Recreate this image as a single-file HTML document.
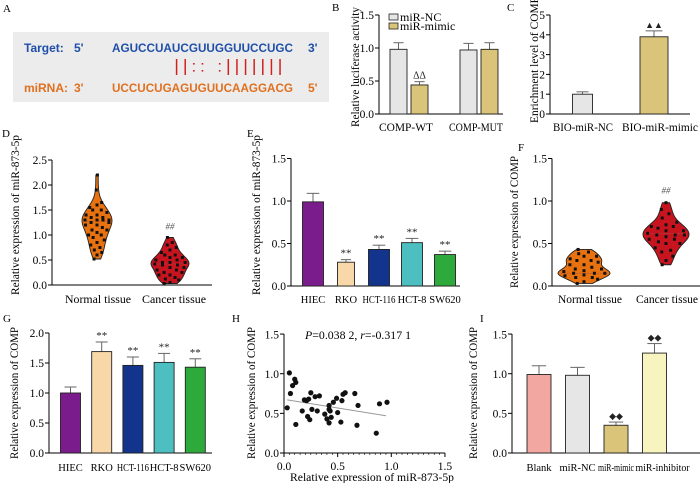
<!DOCTYPE html>
<html><head><meta charset="utf-8">
<style>
html,body{margin:0;padding:0;background:#fff;}
svg{display:block;font-family:"Liberation Serif",serif;}
.sans{font-family:"Liberation Sans",sans-serif;font-weight:bold;}
</style></head>
<body>
<svg id="fig" width="700" height="483" viewBox="0 0 700 483" xmlns="http://www.w3.org/2000/svg">
  <g>
    <text x="3" y="12" font-size="11">A</text>
    <rect x="13" y="32" width="316" height="70" fill="#ececec"/>
    <g class="sans" font-size="12" fill="#1f4fa8">
      <text x="24" y="52">Target:</text>
      <text x="74" y="52">5'</text>
      <text x="112" y="52" textLength="181" lengthAdjust="spacingAndGlyphs">AGUCCUAUCGUUGGUUCCUGC</text>
      <text x="308" y="52">3'</text>
    </g>
    <g class="sans" font-size="12" fill="#e07020">
      <text x="24" y="92">miRNA:</text>
      <text x="74" y="92">3'</text>
      <text x="112" y="92" textLength="181" lengthAdjust="spacingAndGlyphs">UCCUCUGAGUGUUCAAGGACG</text>
      <text x="308" y="92">5'</text>
    </g>
    <g id="pairs" stroke="#d42020" stroke-width="1.5" fill="#d42020"></g>
  </g>
  <g id="charts"></g>
</svg>
<script>
// ---------- DATA ----------
const bCategories = ["COMP-WT", "COMP-MUT"];
const bSeriesNC = [0.98, 0.97];
const bSeriesNCErr = [0.1, 0.1];
const bSeriesMimic = [0.44, 0.98];
const bSeriesMimicErr = [0.05, 0.1];
const bTicks = [0.0, 0.5, 1.0, 1.5];

const cCategories = ["BIO-miR-NC", "BIO-miR-mimic"];
const cValues = [1.0, 3.9];
const cErrors = [0.12, 0.3];
const cTicks = [0, 1, 2, 3, 4, 5];

const dNormal = [0.52,0.6,0.65,0.7,0.75,0.8,0.85,0.9,0.95,1.0,1.0,1.05,1.1,1.1,1.15,1.2,1.2,1.25,1.25,1.3,1.3,1.3,1.3,1.35,1.35,1.4,1.4,1.45,1.5,1.5,1.55,1.6,1.65,1.9,2.2];
const dCancer = [0.03,0.05,0.1,0.12,0.15,0.2,0.2,0.25,0.25,0.3,0.3,0.35,0.35,0.4,0.4,0.42,0.45,0.45,0.45,0.5,0.5,0.55,0.55,0.6,0.6,0.65,0.7,0.75,0.8,0.85,0.95];
const dTicks = [0.0, 0.5, 1.0, 1.5, 2.0, 2.5];

const eCategories = ["HIEC", "RKO", "HCT-116", "HCT-8", "SW620"];
const eValues = [0.99, 0.28, 0.43, 0.51, 0.37];
const eErrors = [0.1, 0.03, 0.05, 0.05, 0.04];
const eTicks = [0.0, 0.5, 1.0, 1.5];

const fNormal = [0.03,0.05,0.08,0.1,0.1,0.12,0.13,0.15,0.15,0.15,0.17,0.18,0.2,0.2,0.22,0.25,0.25,0.28,0.3,0.3,0.32,0.35,0.35,0.38,0.4,0.43];
const fCancer = [0.25,0.3,0.35,0.4,0.42,0.45,0.5,0.5,0.52,0.55,0.55,0.58,0.6,0.6,0.6,0.62,0.65,0.65,0.68,0.7,0.7,0.72,0.75,0.8,0.85,0.9,0.98];
const fTicks = [0.0, 0.5, 1.0, 1.5];

const gCategories = ["HIEC", "RKO", "HCT-116", "HCT-8", "SW620"];
const gValues = [1.0, 1.69, 1.46, 1.51, 1.43];
const gErrors = [0.1, 0.16, 0.14, 0.15, 0.14];
const gTicks = [0.0, 0.5, 1.0, 1.5, 2.0];

const hX = [0.03,0.05,0.06,0.08,0.10,0.11,0.11,0.17,0.19,0.21,0.22,0.23,0.24,0.25,0.26,0.29,0.31,0.33,0.38,0.40,0.42,0.42,0.42,0.43,0.44,0.46,0.49,0.50,0.53,0.54,0.55,0.57,0.66,0.69,0.68,0.86,0.89,0.96];
const hY = [0.57,1.01,0.75,0.85,0.93,0.89,0.36,0.53,0.67,0.66,0.46,0.68,0.42,0.76,0.55,0.71,0.53,0.72,0.49,0.43,0.60,0.55,0.38,0.53,0.45,0.64,0.69,0.51,0.39,0.66,0.74,0.76,0.75,0.60,0.35,0.25,0.62,0.64];
const hFitX = [0.03, 0.95];
const hFitY = [0.67, 0.47];
const hTicks = [0.0, 0.5, 1.0, 1.5];

const iCategories = ["Blank", "miR-NC", "miR-mimic", "miR-inhibitor"];
const iValues = [0.99, 0.98, 0.35, 1.26];
const iErrors = [0.11, 0.1, 0.04, 0.12];
const iTicks = [0.0, 0.5, 1.0, 1.5];

// ---------- HELPERS ----------
const NS = "http://www.w3.org/2000/svg";
const root = document.getElementById("charts");
function mk(tag, attrs, parent, txt) {
  const el = document.createElementNS(NS, tag);
  for (const k in attrs) el.setAttribute(k, attrs[k]);
  if (txt !== undefined) el.textContent = txt;
  (parent || root).appendChild(el);
  return el;
}
function fit(el, maxW) {
  if (!maxW) return;
  try {
    const w = el.getComputedTextLength();
    if (w > maxW) { el.setAttribute("textLength", maxW); el.setAttribute("lengthAdjust", "spacingAndGlyphs"); }
  } catch (e) {}
}
function group(name, parent) {
  const g = mk("g", {}, parent);
  
  
  return g;
}
function fmt(v, dec) { return v.toFixed(dec); }
function yAxis(g, ax, y0, sc, ticks, dec, xEnd) {
  const ln = mk("line", {x1: ax, y1: y0, x2: ax, y2: sc(ticks[ticks.length-1]), stroke: "#000", "stroke-width": 1}, g);
  
  
  const bl = mk("line", {x1: ax, y1: y0, x2: xEnd, y2: y0, stroke: "#000", "stroke-width": 1}, g);
  
  
  ticks.forEach(t => {
    mk("line", {x1: ax-4, y1: sc(t), x2: ax, y2: sc(t), stroke: "#000"}, g);
    const tx = mk("text", {x: ax-5, y: sc(t)+4.2, "font-size": 11.5, "text-anchor": "end"}, g, fmt(t, dec));
    
    
  });
}
function yTitle(g, x, cy, txt, maxW) {
  const t = mk("text", {x: 0, y: 0, "font-size": 11.5, "text-anchor": "middle", transform: `translate(${x},${cy}) rotate(-90)`}, g, txt);
  
  
  fit(t, maxW);
}
function panelLabel(txt, x, y) {
  const t = mk("text", {x: x, y: y, "font-size": 11}, root, txt);
  
  
}
function bar(g, cx, w, v, err, sc, y0, fill, mark, markSize) {
  const top = sc(v);
  const et = sc(v + err);
  mk("line", {x1: cx, y1: top, x2: cx, y2: et, stroke: "#666", "stroke-width": 1}, g);
  mk("line", {x1: cx - w*0.3, y1: et, x2: cx + w*0.3, y2: et, stroke: "#666", "stroke-width": 1}, g);
  const r = mk("rect", {x: cx - w/2, y: top, width: w, height: y0 - top, fill: fill, stroke: "#222", "stroke-width": 0.9}, g);
  
  
  if (mark) {
    const m = mk("text", {x: cx, y: et - 3, "font-size": markSize || 11, "text-anchor": "middle", fill: "#222"}, g, mark);
    
    
  }
}
function xLabel(g, x, y, txt, fs, maxW) {
  const t = mk("text", {x: x, y: y, "font-size": fs || 12, "text-anchor": "middle"}, g, txt);
  
  
  fit(t, maxW);
}
function violin(g, cx, vals, sc, maxHalf, fill) {
  const lo = Math.min(...vals), hi = Math.max(...vals);
  const bw = (hi - lo) * 0.09;
  const steps = 40;
  const dens = [];
  for (let i = 0; i <= steps; i++) {
    const v = lo + (hi - lo) * i / steps;
    let d = 0;
    vals.forEach(x => { d += Math.exp(-0.5 * ((v - x) / bw) ** 2); });
    dens.push([v, d]);
  }
  const mx = Math.max(...dens.map(d => d[1]));
  let p = "";
  dens.forEach((d, i) => { p += (i ? "L" : "M") + (cx + maxHalf * d[1]/mx) + "," + sc(d[0]); });
  for (let i = dens.length - 1; i >= 0; i--) p += "L" + (cx - maxHalf * dens[i][1]/mx) + "," + sc(dens[i][0]);
  p += "Z";
  const path = mk("path", {d: p, fill: fill, stroke: "#222", "stroke-width": 0.9}, g);
  
  
  const peak = dens[dens.findIndex(d => d[1] === mx)][0];
  const ml = mk("line", {x1: cx - maxHalf*0.9, x2: cx + maxHalf*0.9, y1: sc(peak), y2: sc(peak), stroke: "#a05050", "stroke-width": 0.6, "stroke-dasharray": "2,1"}, g);
  
  
  vals.forEach((v, i) => {
    let d = 0;
    vals.forEach(x => { d += Math.exp(-0.5 * ((v - x) / bw) ** 2); });
    const half = maxHalf * d / mx * 0.8;
    const off = ((i * 7) % 5 - 2) / 2 * half;
    const c = mk("rect", {x: cx + off - 1.5, y: sc(v) - 1.5, width: 3, height: 3, fill: "#111"}, g);
    
    
  });
}

// ---------- PAIRING MARKS (panel A) ----------
(function () {
  const pg = document.getElementById("pairs");
  const pairs = ["|", "|", ":", ":", " ", ":", "|", "|", "|", "|", "|", "|", "|"];
  const startX = 176.6, step = 8.62;
  pairs.forEach((c, i) => {
    const x = startX + i * step;
    if (c === "|") mk("line", {x1: x, y1: 59, x2: x, y2: 75}, pg);
    else if (c === ":") { mk("rect", {x: x-0.8, y: 63, width: 1.6, height: 1.6, stroke: "none"}, pg); mk("rect", {x: x-0.8, y: 70, width: 1.6, height: 1.6, stroke: "none"}, pg); }
  });
})();

// ---------- PANEL B ----------
(function () {
  panelLabel("B", 332, 11);
  const g = group("panel-b-luciferase-chart");
  const y0 = 114, ax = 379, sc = v => y0 - v * 66;
  yAxis(g, ax, y0, sc, bTicks, 1, 503);
  yTitle(g, 359, 67, "Relative luciferase activity", 120);
  bCategories.forEach((c, i) => {
    const gc = 409 + i * 70;
    bar(g, gc - 10.5, 17, bSeriesNC[i], bSeriesNCErr[i], sc, y0, "#e6e6e6");
    bar(g, gc + 10.5, 17, bSeriesMimic[i], bSeriesMimicErr[i], sc, y0, "#d9c47a", i === 0 ? "ΔΔ" : null, 10);
    xLabel(g, gc - 3, 131, c, 12, 54);
  });
  const lg = group("legend", g);
  const l1 = mk("rect", {x: 389, y: 14, width: 9, height: 6, fill: "#e6e6e6", stroke: "#222", "stroke-width": 0.8}, lg);
  
  
  const t1 = mk("text", {x: 400, y: 21, "font-size": 12}, lg, "miR-NC");
  
  
  const l2 = mk("rect", {x: 389, y: 23, width: 9, height: 6, fill: "#d9c47a", stroke: "#222", "stroke-width": 0.8}, lg);
  
  
  const t2 = mk("text", {x: 400, y: 30, "font-size": 12}, lg, "miR-mimic");
  
  
})();

// ---------- PANEL C ----------
(function () {
  panelLabel("C", 507, 11);
  const g = group("panel-c-enrichment-chart");
  const y0 = 114, ax = 550, sc = v => y0 - v * 19.8;
  yAxis(g, ax, y0, sc, cTicks, 0, 690);
  yTitle(g, 538, 60, "Enrichment level of COMP", 126);
  const colors = ["#e6e6e6", "#d9c47a"];
  const widths = [20, 28];
  cCategories.forEach((c, i) => {
    const cx = 582.5 + i * 71.5;
    bar(g, cx, widths[i], cValues[i], cErrors[i], sc, y0, colors[i], i ? "▲▲" : null, 9);
    xLabel(g, i ? 660 : 583, 131, c, 12, i ? 76 : 60);
  });
})();

// ---------- PANEL D ----------
(function () {
  panelLabel("D", 2, 137);
  const g = group("panel-d-mir873-violin");
  const y0 = 285, ax = 52, sc = v => y0 - v * 50;
  yAxis(g, ax, y0, sc, dTicks, 1, 212);
  yTitle(g, 19, 215, "Relative expression of miR-873-5p", 160);
  violin(g, 97, dNormal, sc, 15, "#e8720f");
  violin(g, 170, dCancer, sc, 19, "#c8141e");
  const m = mk("text", {x: 170, y: sc(Math.max(...dCancer)) - 8, "font-size": 9, "text-anchor": "middle", fill: "#555", "font-style": "italic"}, g, "##");
  
  
  xLabel(g, 98, 303, "Normal tissue", 12, 66);
  xLabel(g, 174, 303, "Cancer tissue", 12, 64);
})();

// ---------- PANEL E ----------
(function () {
  panelLabel("E", 247, 137);
  const g = group("panel-e-mir873-cell-lines");
  const y0 = 286, ax = 291, sc = v => y0 - v * 85;
  yAxis(g, ax, y0, sc, eTicks, 1, 460);
  yTitle(g, 260, 215, "Relative expression of miR-873-5p", 160);
  const colors = ["#7b1c8c", "#f8d8a8", "#12348c", "#4dbfc0", "#2eaa3c"];
  eCategories.forEach((c, i) => {
    const cx = 313 + i * 33;
    bar(g, cx, i === 1 ? 17 : 21, eValues[i], eErrors[i], sc, y0, colors[i], i ? "**" : null, 11);
    xLabel(g, cx, 303, c, 10.5, 33);
  });
})();

// ---------- PANEL F ----------
(function () {
  panelLabel("F", 518, 151);
  const g = group("panel-f-comp-violin");
  const y0 = 286, ax = 552, sc = v => y0 - v * 85;
  yAxis(g, ax, y0, sc, fTicks, 1, 700);
  yTitle(g, 518, 222, "Relative expression of COMP", 132);
  violin(g, 584, fNormal, sc, 26, "#e8720f");
  violin(g, 666, fCancer, sc, 23, "#c8141e");
  const m = mk("text", {x: 666, y: sc(Math.max(...fCancer)) - 9, "font-size": 9, "text-anchor": "middle", fill: "#555", "font-style": "italic"}, g, "##");
  
  
  xLabel(g, 590, 303, "Normal tissue", 12, 64);
  xLabel(g, 667, 303, "Cancer tissue", 12, 62);
})();

// ---------- PANEL G ----------
(function () {
  panelLabel("G", 3, 322);
  const g = group("panel-g-comp-cell-lines");
  const y0 = 453, ax = 49, sc = v => y0 - v * 60;
  yAxis(g, ax, y0, sc, gTicks, 1, 212);
  yTitle(g, 18, 393, "Relative expression of COMP", 132);
  const colors = ["#7b1c8c", "#f8d8a8", "#12348c", "#4dbfc0", "#2eaa3c"];
  gCategories.forEach((c, i) => {
    const cx = 70.5 + i * 31.2;
    bar(g, cx, 20, gValues[i], gErrors[i], sc, y0, colors[i], i ? "**" : null, 11);
    xLabel(g, cx, 471, c, 10.5, 32);
  });
})();

// ---------- PANEL H ----------
(function () {
  panelLabel("H", 232, 322);
  const g = group("panel-h-correlation-scatter");
  const y0 = 453, ax = 284, sc = v => y0 - v * 79.3, sx = v => ax + v * 107.3;
  yAxis(g, ax, y0, sc, hTicks, 1, sx(1.5));
  hTicks.forEach(t => {
    mk("line", {x1: sx(t), y1: y0, x2: sx(t), y2: y0 + 4, stroke: "#000"}, g);
    xLabel(g, sx(t), 470, fmt(t, 1), 11.5);
  });
  for (let k = 1; k < 30; k++) {
    if (k % 10) mk("line", {x1: sx(k * 0.05), y1: y0, x2: sx(k * 0.05), y2: y0 + 2, stroke: "#000", "stroke-width": 0.6}, g);
  }
  yTitle(g, 255, 393, "Relative expression of COMP", 132);
  const xt = mk("text", {x: 372, y: 481, "font-size": 12, "text-anchor": "middle"}, g, "Relative expression of miR-873-5p");
  
  
  fit(xt, 164);
  const fit1 = mk("line", {x1: sx(hFitX[0]), y1: sc(hFitY[0]), x2: sx(hFitX[1]), y2: sc(hFitY[1]), stroke: "#999", "stroke-width": 1}, g);
  
  
  hX.forEach((x, i) => {
    const c = mk("circle", {cx: sx(x), cy: sc(hY[i]), r: 2.6, fill: "#111"}, g);
    
    
  });
  const st = mk("text", {x: 305, y: 339, "font-size": 12}, g);
  
  
  st.innerHTML = '<tspan font-style="italic">P</tspan>=0.038 2, <tspan font-style="italic">r</tspan>=-0.317 1';
  fit(st, 106);
})();

// ---------- PANEL I ----------
(function () {
  panelLabel("I", 480, 322);
  const g = group("panel-i-comp-transfection");
  const y0 = 453, ax = 512, sc = v => y0 - v * 79.3;
  yAxis(g, ax, y0, sc, iTicks, 1, 700);
  yTitle(g, 477, 393, "Relative expression of COMP", 132);
  const colors = ["#f2a8a0", "#e6e6e6", "#d9c47a", "#f8f4c0"];
  iCategories.forEach((c, i) => {
    const cx = 539 + i * 38.5;
    bar(g, cx, 24, iValues[i], iErrors[i], sc, y0, colors[i], i >= 2 ? "◆◆" : null, 9);
    xLabel(g, cx + (i === 3 ? 8 : 0), 471, c, 10.5, i === 3 ? 54 : 36);
  });
})();
</script>
</body></html>
